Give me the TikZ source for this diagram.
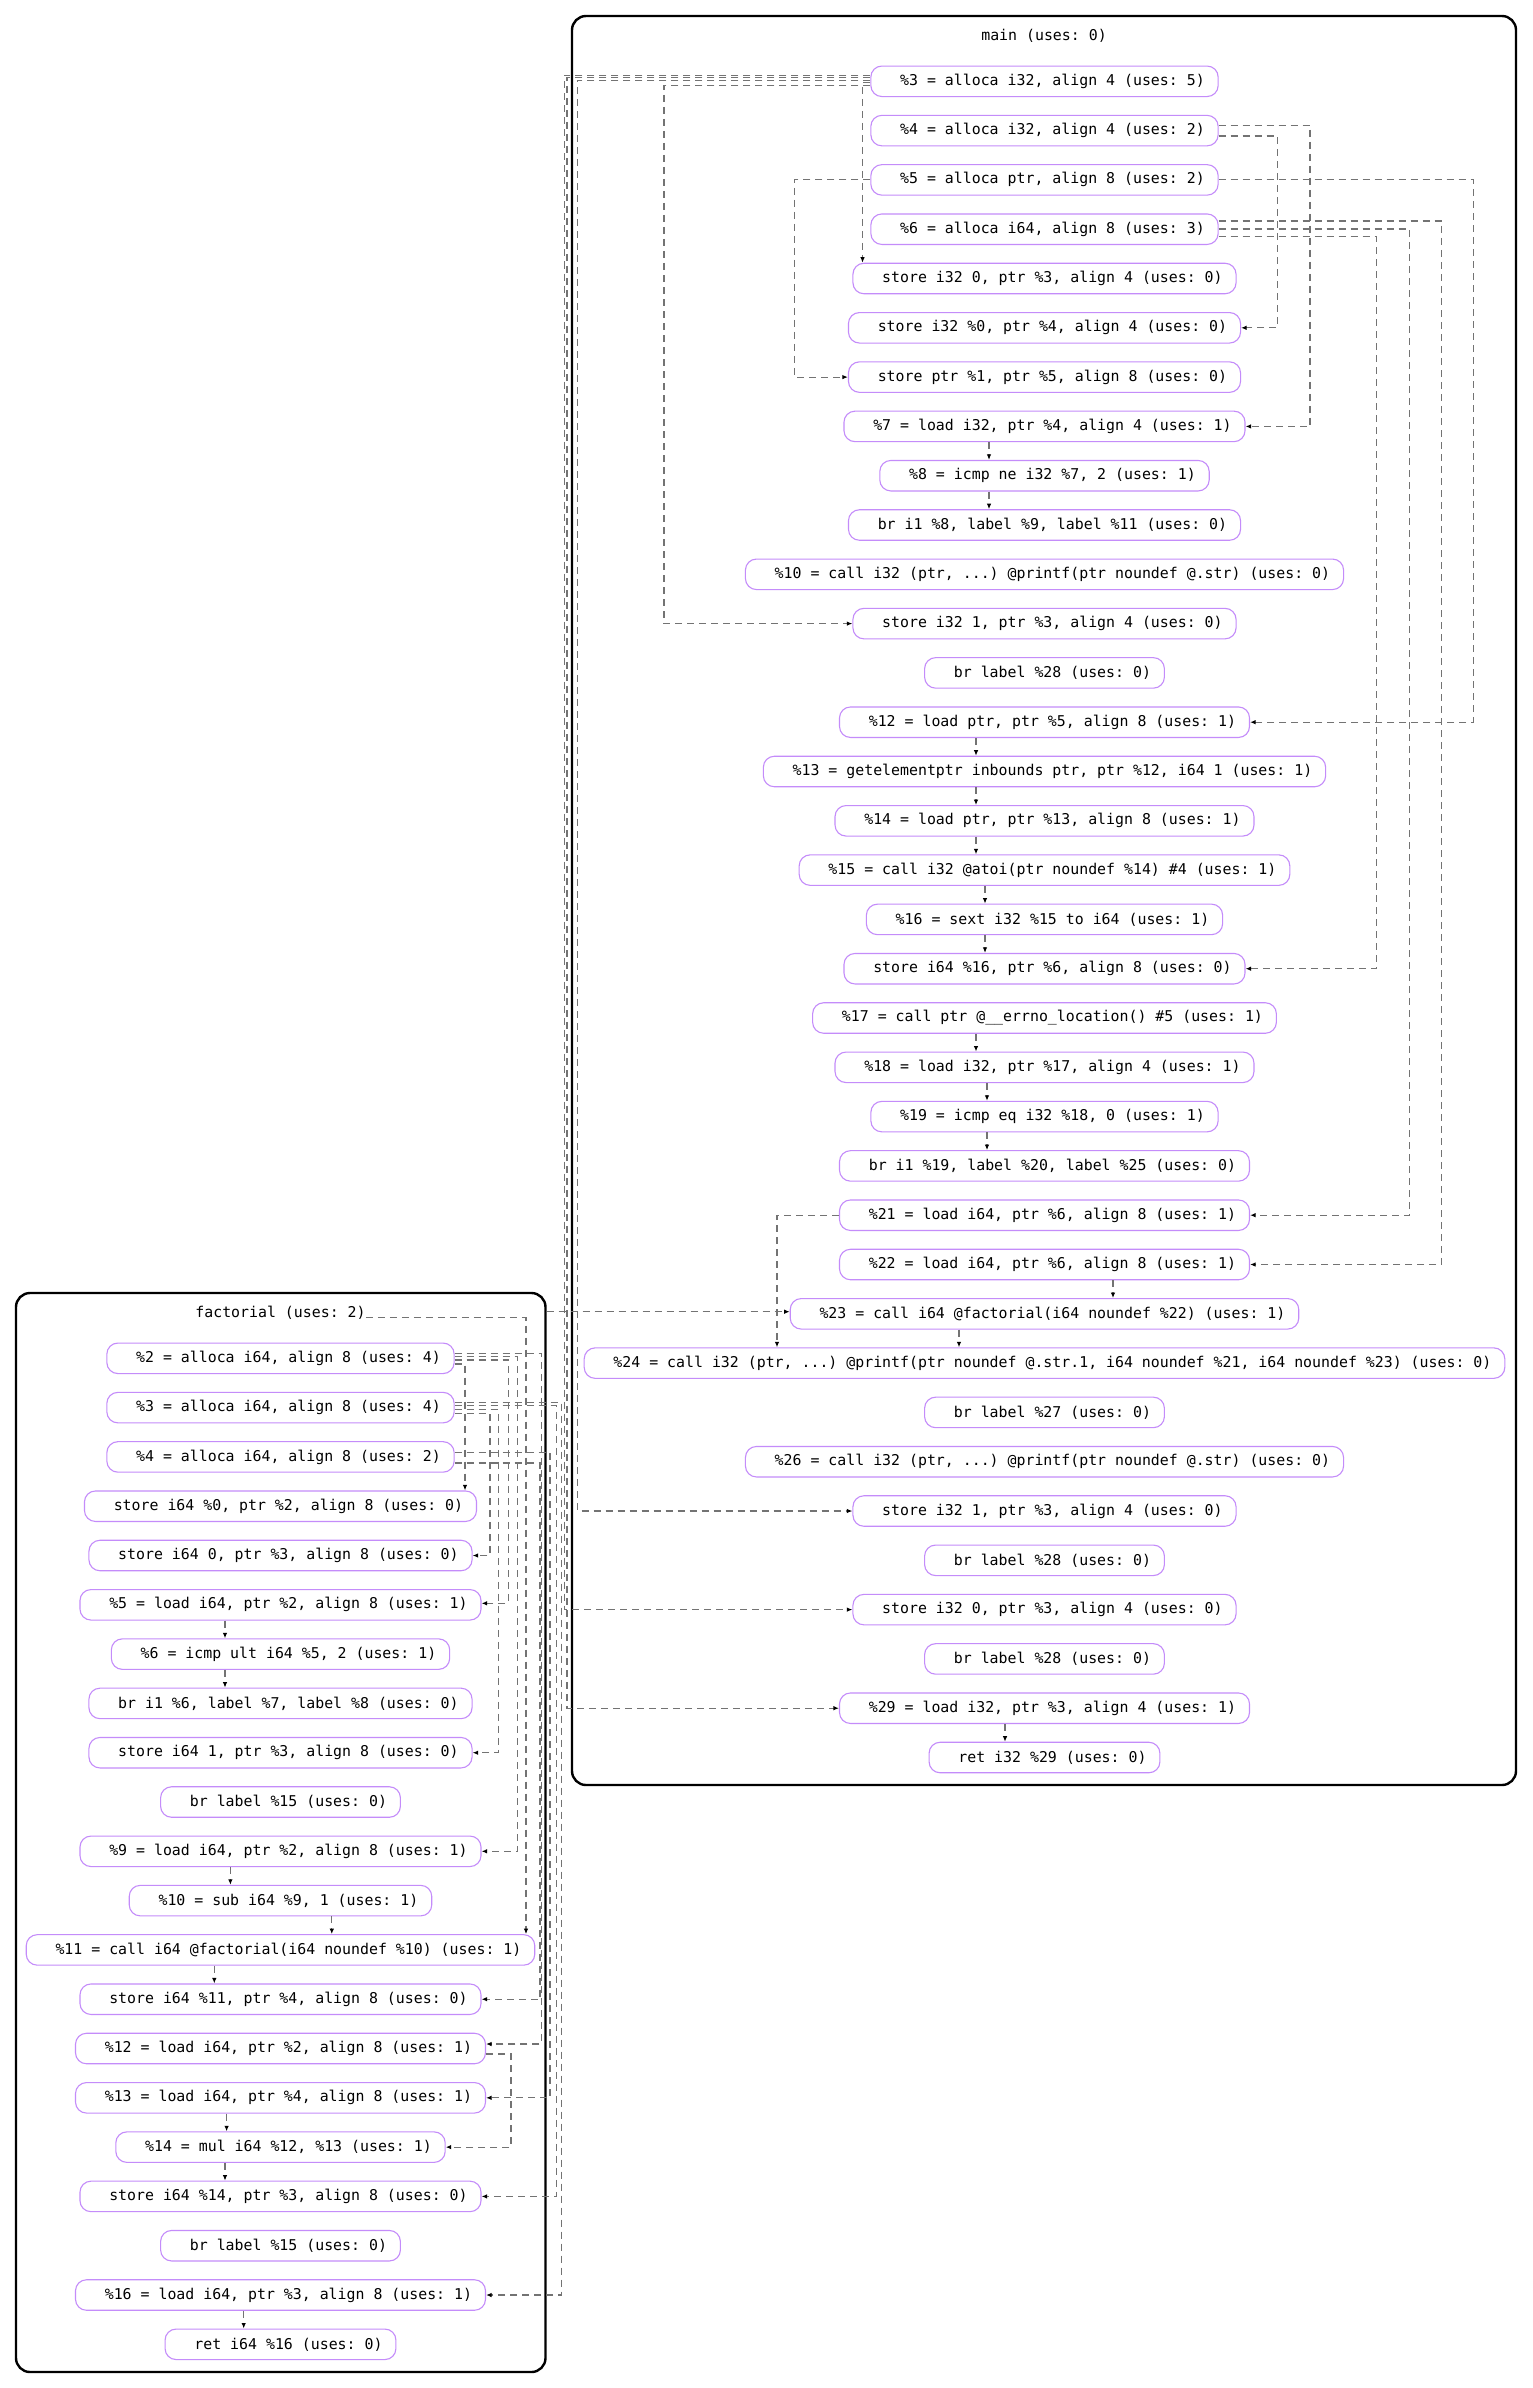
\documentclass[tikz,border=0pt]{standalone}
\usepackage{fontspec}
\setmonofont{DejaVu Sans Mono}
\usetikzlibrary{arrows.meta,calc}
\definecolor{nodeline}{RGB}{196,140,250}
\definecolor{edgegray}{RGB}{115,115,115}
% instruction text: wider padding on the left than on the right
\newcommand\ir[1]{\hspace*{29.3pt}#1\hspace*{13.4pt}}
\begin{document}
\begin{tikzpicture}[x=1pt,y=-1pt,
  inst/.style={draw=nodeline, line width=1.1pt, rounded corners=11pt,
    minimum height=30.5pt, inner xsep=0pt, inner ysep=0pt,
    font=\ttfamily\fontsize{14.88}{17}\selectfont},
  ftitle/.style={inner sep=0pt, font=\ttfamily\fontsize{14.88}{17}\selectfont},
  cluster/.style={draw=black, line width=2.4pt, rounded corners=14pt},
  dep/.style={draw=edgegray, line width=1.1pt, dash pattern=on 7pt off 5pt,
    -{Latex[length=5.5pt,width=4.5pt,color=black]}}]
\useasboundingbox (0,0) rectangle (1532,2388);
\fill[white] (0,0) rectangle (1532,2388);

% function frames
\draw[cluster] (572,16) rectangle (1516,1785);
\draw[cluster] (16,1293) rectangle (545.5,2372);

% ---------------- main ----------------
\node[ftitle] (mt) at (1044,36) {main (uses: 0)};
\def\mx{1044.5}
\node[inst] (m3)  at (\mx,{81.3+49.3*0})  {\ir{\%3 = alloca i32, align 4 (uses: 5)}};
\node[inst] (m4)  at (\mx,{81.3+49.3*1})  {\ir{\%4 = alloca i32, align 4 (uses: 2)}};
\node[inst] (m5)  at (\mx,{81.3+49.3*2})  {\ir{\%5 = alloca ptr, align 8 (uses: 2)}};
\node[inst] (m6)  at (\mx,{81.3+49.3*3})  {\ir{\%6 = alloca i64, align 8 (uses: 3)}};
\node[inst] (s1)  at (\mx,{81.3+49.3*4})  {\ir{store i32 0, ptr \%3, align 4 (uses: 0)}};
\node[inst] (s2)  at (\mx,{81.3+49.3*5})  {\ir{store i32 \%0, ptr \%4, align 4 (uses: 0)}};
\node[inst] (s3)  at (\mx,{81.3+49.3*6})  {\ir{store ptr \%1, ptr \%5, align 8 (uses: 0)}};
\node[inst] (m7)  at (\mx,{81.3+49.3*7})  {\ir{\%7 = load i32, ptr \%4, align 4 (uses: 1)}};
\node[inst] (m8)  at (\mx,{81.3+49.3*8})  {\ir{\%8 = icmp ne i32 \%7, 2 (uses: 1)}};
\node[inst] (b1)  at (\mx,{81.3+49.3*9})  {\ir{br i1 \%8, label \%9, label \%11 (uses: 0)}};
\node[inst] (m10) at (\mx,{81.3+49.3*10}) {\ir{\%10 = call i32 (ptr, ...) @printf(ptr noundef @.str) (uses: 0)}};
\node[inst] (s4)  at (\mx,{81.3+49.3*11}) {\ir{store i32 1, ptr \%3, align 4 (uses: 0)}};
\node[inst] (b2)  at (\mx,{81.3+49.3*12}) {\ir{br label \%28 (uses: 0)}};
\node[inst] (m12) at (\mx,{81.3+49.3*13}) {\ir{\%12 = load ptr, ptr \%5, align 8 (uses: 1)}};
\node[inst] (m13) at (\mx,{81.3+49.3*14}) {\ir{\%13 = getelementptr inbounds ptr, ptr \%12, i64 1 (uses: 1)}};
\node[inst] (m14) at (\mx,{81.3+49.3*15}) {\ir{\%14 = load ptr, ptr \%13, align 8 (uses: 1)}};
\node[inst] (m15) at (\mx,{81.3+49.3*16}) {\ir{\%15 = call i32 @atoi(ptr noundef \%14) \#4 (uses: 1)}};
\node[inst] (m16) at (\mx,{81.3+49.3*17}) {\ir{\%16 = sext i32 \%15 to i64 (uses: 1)}};
\node[inst] (s5)  at (\mx,{81.3+49.3*18}) {\ir{store i64 \%16, ptr \%6, align 8 (uses: 0)}};
\node[inst] (m17) at (\mx,{81.3+49.3*19}) {\ir{\%17 = call ptr @\_\_errno\_location() \#5 (uses: 1)}};
\node[inst] (m18) at (\mx,{81.3+49.3*20}) {\ir{\%18 = load i32, ptr \%17, align 4 (uses: 1)}};
\node[inst] (m19) at (\mx,{81.3+49.3*21}) {\ir{\%19 = icmp eq i32 \%18, 0 (uses: 1)}};
\node[inst] (b3)  at (\mx,{81.3+49.3*22}) {\ir{br i1 \%19, label \%20, label \%25 (uses: 0)}};
\node[inst] (m21) at (\mx,{81.3+49.3*23}) {\ir{\%21 = load i64, ptr \%6, align 8 (uses: 1)}};
\node[inst] (m22) at (\mx,{81.3+49.3*24}) {\ir{\%22 = load i64, ptr \%6, align 8 (uses: 1)}};
\node[inst] (m23) at (\mx,{81.3+49.3*25}) {\ir{\%23 = call i64 @factorial(i64 noundef \%22) (uses: 1)}};
\node[inst] (m24) at (\mx,{81.3+49.3*26}) {\ir{\%24 = call i32 (ptr, ...) @printf(ptr noundef @.str.1, i64 noundef \%21, i64 noundef \%23) (uses: 0)}};
\node[inst] (b4)  at (\mx,{81.3+49.3*27}) {\ir{br label \%27 (uses: 0)}};
\node[inst] (m26) at (\mx,{81.3+49.3*28}) {\ir{\%26 = call i32 (ptr, ...) @printf(ptr noundef @.str) (uses: 0)}};
\node[inst] (s6)  at (\mx,{81.3+49.3*29}) {\ir{store i32 1, ptr \%3, align 4 (uses: 0)}};
\node[inst] (b5)  at (\mx,{81.3+49.3*30}) {\ir{br label \%28 (uses: 0)}};
\node[inst] (s7)  at (\mx,{81.3+49.3*31}) {\ir{store i32 0, ptr \%3, align 4 (uses: 0)}};
\node[inst] (b6)  at (\mx,{81.3+49.3*32}) {\ir{br label \%28 (uses: 0)}};
\node[inst] (m29) at (\mx,{81.3+49.3*33}) {\ir{\%29 = load i32, ptr \%3, align 4 (uses: 1)}};
\node[inst] (mr)  at (\mx,{81.3+49.3*34}) {\ir{ret i32 \%29 (uses: 0)}};

% ---------------- factorial ----------------
\node[ftitle] (ft) at (280.5,1313) {factorial (uses: 2)};
\def\fx{280.5}
\node[inst] (f2)  at (\fx,{1358.3+49.3*0})  {\ir{\%2 = alloca i64, align 8 (uses: 4)}};
\node[inst] (f3)  at (\fx,{1358.3+49.3*1})  {\ir{\%3 = alloca i64, align 8 (uses: 4)}};
\node[inst] (f4)  at (\fx,{1358.3+49.3*2})  {\ir{\%4 = alloca i64, align 8 (uses: 2)}};
\node[inst] (fs1) at (\fx,{1358.3+49.3*3})  {\ir{store i64 \%0, ptr \%2, align 8 (uses: 0)}};
\node[inst] (fs2) at (\fx,{1358.3+49.3*4})  {\ir{store i64 0, ptr \%3, align 8 (uses: 0)}};
\node[inst] (f5)  at (\fx,{1358.3+49.3*5})  {\ir{\%5 = load i64, ptr \%2, align 8 (uses: 1)}};
\node[inst] (f6)  at (\fx,{1358.3+49.3*6})  {\ir{\%6 = icmp ult i64 \%5, 2 (uses: 1)}};
\node[inst] (fb1) at (\fx,{1358.3+49.3*7})  {\ir{br i1 \%6, label \%7, label \%8 (uses: 0)}};
\node[inst] (fs3) at (\fx,{1358.3+49.3*8})  {\ir{store i64 1, ptr \%3, align 8 (uses: 0)}};
\node[inst] (fb2) at (\fx,{1358.3+49.3*9})  {\ir{br label \%15 (uses: 0)}};
\node[inst] (f9)  at (\fx,{1358.3+49.3*10}) {\ir{\%9 = load i64, ptr \%2, align 8 (uses: 1)}};
\node[inst] (f10) at (\fx,{1358.3+49.3*11}) {\ir{\%10 = sub i64 \%9, 1 (uses: 1)}};
\node[inst] (f11) at (\fx,{1358.3+49.3*12}) {\ir{\%11 = call i64 @factorial(i64 noundef \%10) (uses: 1)}};
\node[inst] (fs4) at (\fx,{1358.3+49.3*13}) {\ir{store i64 \%11, ptr \%4, align 8 (uses: 0)}};
\node[inst] (f12) at (\fx,{1358.3+49.3*14}) {\ir{\%12 = load i64, ptr \%2, align 8 (uses: 1)}};
\node[inst] (f13) at (\fx,{1358.3+49.3*15}) {\ir{\%13 = load i64, ptr \%4, align 8 (uses: 1)}};
\node[inst] (f14) at (\fx,{1358.3+49.3*16}) {\ir{\%14 = mul i64 \%12, \%13 (uses: 1)}};
\node[inst] (fs5) at (\fx,{1358.3+49.3*17}) {\ir{store i64 \%14, ptr \%3, align 8 (uses: 0)}};
\node[inst] (fb3) at (\fx,{1358.3+49.3*18}) {\ir{br label \%15 (uses: 0)}};
\node[inst] (f16) at (\fx,{1358.3+49.3*19}) {\ir{\%16 = load i64, ptr \%3, align 8 (uses: 1)}};
\node[inst] (fr)  at (\fx,{1358.3+49.3*20}) {\ir{ret i64 \%16 (uses: 0)}};

% ---------------- main: uses of the allocas ----------------
\draw[dep] (m3.west |- 0,82.7) -| (s1.north -| 862.5,0);
\draw[dep] (m3.west |- 0,85.3) -- (664,85.3) |- (s4.west);
\draw[dep] (m3.west |- 0,80.3) -- (577.3,80.3) |- (s6.west);
\draw[dep] (m3.west |- 0,77.7) -- (567,77.7) |- (m29.west);
\draw[dep] (m3.west |- 0,75.3) -- (564.5,75.3) |- (s7.west);

\draw[dep] (m4.east |- 0,125.2) -- (1310,125.2) |- (m7.east);
\draw[dep] (m4.east |- 0,136) -- (1277.5,136) |- (s2.east);

\draw[dep] (m5.east) -- (1473.3,0 |- m5.east) |- (m12.east);
\draw[dep] (m5.west) -- (794.3,0 |- m5.west) |- (s3.west);

\draw[dep] (m6.east |- 0,221) -- (1441.7,221) |- (m22.east);
\draw[dep] (m6.east |- 0,229) -- (1409.5,229) |- (m21.east);
\draw[dep] (m6.east |- 0,236.7) -- (1376.2,236.7) |- (s5.east);

% ---------------- main: value flow ----------------
\draw[dep] (m7.south -| 989,0) -- (m8.north -| 989,0);
\draw[dep] (m8.south -| 989,0) -- (b1.north -| 989,0);
\draw[dep] (m12.south -| 976,0) -- (m13.north -| 976,0);
\draw[dep] (m13.south -| 976,0) -- (m14.north -| 976,0);
\draw[dep] (m14.south -| 976,0) -- (m15.north -| 976,0);
\draw[dep] (m15.south -| 985,0) -- (m16.north -| 985,0);
\draw[dep] (m16.south -| 985,0) -- (s5.north -| 985,0);
\draw[dep] (m17.south -| 976,0) -- (m18.north -| 976,0);
\draw[dep] (m18.south -| 987,0) -- (m19.north -| 987,0);
\draw[dep] (m19.south -| 987,0) -- (b3.north -| 987,0);
\draw[dep] (m22.south -| 1113,0) -- (m23.north -| 1113,0);
\draw[dep] (m23.south -| 959,0) -- (m24.north -| 959,0);
\draw[dep] (m21.west) -| (m24.north -| 777,0);
\draw[dep] (m29.south -| 1005,0) -- (mr.north -| 1005,0);

% ---------------- calls of factorial ----------------
\coordinate (fexit) at (546.7,1311.7);
\draw[dep] (fexit) -- (m23.west |- fexit);
\draw[dep] (ft.east |- 0,1317.7) -| (f11.north -| 526,0);

% ---------------- factorial: uses of the allocas ----------------
\draw[dep] (f2.east |- 0,1353.3) -- (541.7,1353.3) |- (f12.east |- 0,2044);
\draw[dep] (f2.east |- 0,1356.7) -- (517.3,1356.7) |- (f9.east);
\draw[dep] (f2.east |- 0,1360) -- (508.3,1360) |- (f5.east |- 0,1603.3);
\draw[dep] (f2.east |- 0,1364) -| (fs1.north -| 465,0);

\draw[dep] (f3.east |- 0,1402.5) -- (561.7,1402.5) |- (f16.east);
\draw[dep] (f3.east |- 0,1405.5) -- (556.3,1405.5) |- (fs5.east);
\draw[dep] (f3.east |- 0,1409.5) -- (498.3,1409.5) |- (fs3.east);
\draw[dep] (f3.east |- 0,1413.5) -- (490,1413.5) |- (fs2.east);

\draw[dep] (f4.east |- 0,1452.5) -- (550,1452.5) |- (f13.east);
\draw[dep] (f4.east |- 0,1463) -- (540,1463) |- (fs4.east);

% ---------------- factorial: value flow ----------------
\draw[dep] (f5.south -| 225,0) -- (f6.north -| 225,0);
\draw[dep] (f6.south -| 225,0) -- (fb1.north -| 225,0);
\draw[dep] (f9.south -| 230.4,0) -- (f10.north -| 230.4,0);
\draw[dep] (f10.south -| 331.8,0) -- (f11.north -| 331.8,0);
\draw[dep] (f11.south -| 214.3,0) -- (fs4.north -| 214.3,0);
\draw[dep] (f12.east |- 0,2054) -- (511,2054) |- (f14.east);
\draw[dep] (f13.south -| 226.6,0) -- (f14.north -| 226.6,0);
\draw[dep] (f14.south -| 225,0) -- (fs5.north -| 225,0);
\draw[dep] (f16.south -| 243.7,0) -- (fr.north -| 243.7,0);
\end{tikzpicture}
\end{document}
